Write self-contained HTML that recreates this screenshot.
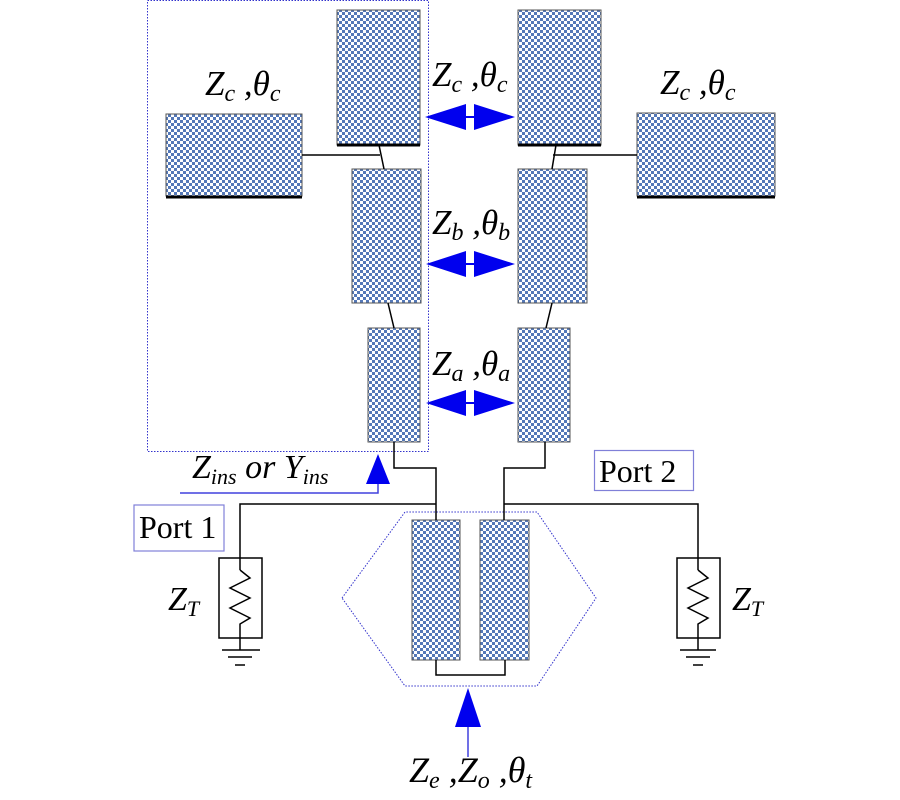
<!DOCTYPE html>
<html><head><meta charset="utf-8"><style>
html,body{margin:0;padding:0;background:#fff;}
svg{display:block;}
.t{font-family:"Liberation Serif",serif;font-style:italic;fill:#000;}
.p{font-family:"Liberation Serif",serif;fill:#000;font-size:32px;}
</style></head><body>
<svg width="900" height="800" viewBox="0 0 900 800" xmlns="http://www.w3.org/2000/svg">
<defs>
<pattern id="ck" width="6" height="6" patternUnits="userSpaceOnUse">
<rect width="6" height="6" fill="#ffffff"/>
<rect width="3" height="3" fill="#5478b8"/>
<rect x="3" y="3" width="3" height="3" fill="#5478b8"/>
</pattern>
</defs>
<g fill="none" stroke="#3333cc" stroke-width="1" stroke-dasharray="1.5,1.5">
<rect x="147.5" y="0.5" width="281" height="451"/>
<polygon points="342,598 405,512 537,512 596,598 537,686 405,686"/>
</g>
<g stroke="#8080d8" stroke-width="1.2" fill="none">
<rect x="134" y="505" width="90" height="46"/>
<rect x="594.5" y="450.5" width="99" height="40"/>
</g>
<g fill="url(#ck)" stroke="#555" stroke-width="1">
<rect x="166" y="114" width="136" height="82"/>
<rect x="337" y="10" width="83" height="135"/>
<rect x="352" y="169" width="69" height="134"/>
<rect x="368" y="328" width="52" height="114"/>
<rect x="518" y="10" width="83" height="135"/>
<rect x="518" y="169" width="69" height="134"/>
<rect x="518" y="328" width="52" height="114"/>
<rect x="637" y="113" width="138" height="83"/>
<rect x="412" y="520" width="48" height="140"/>
<rect x="480" y="520" width="49" height="140"/>
</g>
<g stroke="#000" stroke-width="3">
<line x1="166" y1="197" x2="302" y2="197"/>
<line x1="637" y1="197" x2="775" y2="197"/>
<line x1="337" y1="145" x2="420" y2="145"/>
<line x1="518" y1="145" x2="601" y2="145"/>
</g>
<g stroke="#000" stroke-width="1.5" fill="none">
<line x1="302" y1="155" x2="380" y2="155"/>
<line x1="379" y1="145" x2="384" y2="169"/>
<line x1="637" y1="155" x2="553" y2="155"/>
<line x1="556" y1="145" x2="552" y2="169"/>
<line x1="388" y1="303" x2="394" y2="328"/>
<line x1="552" y1="303" x2="546" y2="328"/>
<polyline points="394,442 394,468 436,468 436,520"/>
<polyline points="545,442 545,468 504,468 504,520"/>
<polyline points="240,570 240,504 436,504"/>
<polyline points="504,504 698,504 698,570"/>
<polyline points="436,660 436,675 505,675 505,660"/>
<rect x="219" y="558" width="43" height="80"/>
<rect x="677" y="558" width="43" height="80"/>
<polyline points="240,570 250,578 230,588 250,598 230,608 250,618 240,624 240,650"/>
<polyline points="698,570 708,578 688,588 708,598 688,608 708,618 698,624 698,650"/>
<line x1="222" y1="650" x2="260" y2="650"/><line x1="228" y1="657" x2="252" y2="657"/><line x1="235" y1="665" x2="245" y2="665"/>
<line x1="680" y1="650" x2="716" y2="650"/><line x1="686" y1="657" x2="710" y2="657"/><line x1="693" y1="665" x2="703" y2="665"/>
</g>
<g fill="#0000ee" stroke="none">
<polygon points="425,117 466,104 466,130"/><polygon points="515,117 474,104 474,130"/>
<rect x="466" y="116" width="8" height="2"/>
<polygon points="426,264 466,251 466,277"/><polygon points="515,264 474,251 474,277"/>
<rect x="466" y="263" width="8" height="2"/>
<polygon points="426,403 466,390 466,416"/><polygon points="515,403 474,390 474,416"/>
<rect x="466" y="402" width="8" height="2"/>
<polygon points="378,454 366,484 390,484"/>
<polygon points="468,688 455,727 481,727"/>
</g>
<g stroke="#4040dd" stroke-width="1.5" fill="none">
<polyline points="180,493 378,493 378,484"/>
<line x1="468" y1="727" x2="468" y2="757"/>
</g>
<text class="t" x="205" y="95" font-size="35">Z<tspan font-size="24" dy="6">c</tspan><tspan dy="-6"> ,θ</tspan><tspan font-size="24" dy="6">c</tspan></text>
<text class="t" x="660" y="94" font-size="35">Z<tspan font-size="24" dy="6">c</tspan><tspan dy="-6"> ,θ</tspan><tspan font-size="24" dy="6">c</tspan></text>
<text class="t" x="432" y="86" font-size="35">Z<tspan font-size="24" dy="6">c</tspan><tspan dy="-6"> ,θ</tspan><tspan font-size="24" dy="6">c</tspan></text>
<text class="t" x="432" y="234" font-size="35">Z<tspan font-size="24" dy="6">b</tspan><tspan dy="-6"> ,θ</tspan><tspan font-size="24" dy="6">b</tspan></text>
<text class="t" x="432" y="375" font-size="35">Z<tspan font-size="24" dy="6">a</tspan><tspan dy="-6"> ,θ</tspan><tspan font-size="24" dy="6">a</tspan></text>
<text class="t" x="192" y="478" font-size="34">Z<tspan font-size="22" dy="6">ins</tspan><tspan dy="-6">  or Y</tspan><tspan font-size="22" dy="6">ins</tspan></text>
<text class="t" x="168" y="610" font-size="34">Z<tspan font-size="22" dy="6">T</tspan></text>
<text class="t" x="732" y="610" font-size="34">Z<tspan font-size="22" dy="6">T</tspan></text>
<text class="t" x="409" y="782" font-size="36">Z<tspan font-size="24" dy="6">e</tspan><tspan dy="-6"> ,Z</tspan><tspan font-size="24" dy="6">o</tspan><tspan dy="-6"> ,θ</tspan><tspan font-size="24" dy="6">t</tspan></text>
<text class="p" x="139" y="538">Port 1</text>
<text class="p" x="599" y="482">Port 2</text>
</svg>
</body></html>
